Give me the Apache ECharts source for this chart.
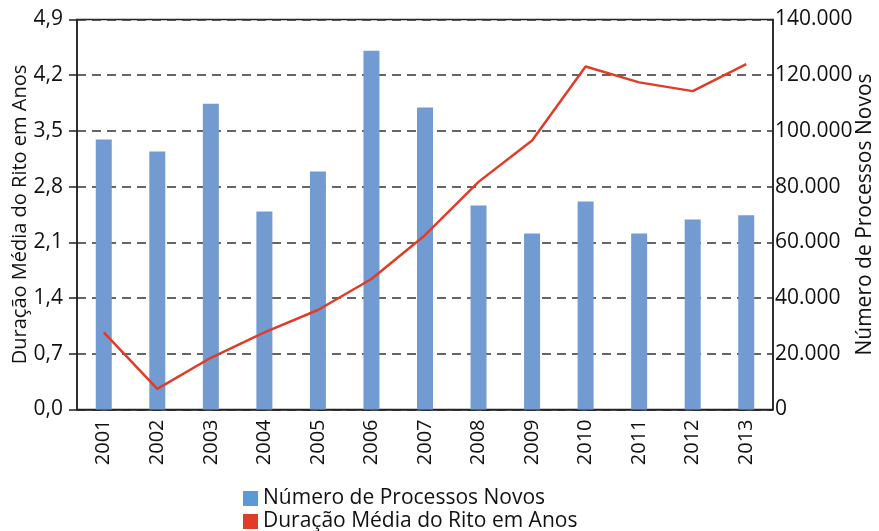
<!DOCTYPE html>
<html>
<head>
<meta charset="utf-8">
<script src="https://cdn.jsdelivr.net/npm/echarts@6/dist/echarts.min.js"></script>
<style>
  html, body { margin: 0; padding: 0; background: #fff; }
  #chart { width: 879px; height: 531px; }
</style>
</head>
<body>
<div id="chart"></div>
<script>
const years = ['2001', '2002', '2003', '2004', '2005', '2006', '2007', '2008', '2009', '2010', '2011', '2012', '2013']
const processosNovos = [96900, 92600, 109800, 71100, 85400, 128800, 108400, 73200, 63200, 74700, 63200, 68200, 69700]
const duracaoMedia = [0.97, 0.26, 0.65, 0.97, 1.25, 1.64, 2.19, 2.86, 3.38, 4.31, 4.11, 4.0, 4.34]

const font = 'Open Sans'
const fmtThousands = v => (v === 0 ? '0' : String(v).replace(/\B(?=(\d{3})+(?!\d))/g, '.'))

// one legend per row, the default layout would put them side by side here
const legendRow = (name, color, top) => ({
  orient: 'vertical',
  left: 243, top,
  padding: 0,
  itemWidth: 15, itemHeight: 15,
  textStyle: { fontFamily: font, fontSize: 21, color: '#111' },
  data: [{ name, icon: 'rect', itemStyle: { color } }]
})

const chart = echarts.init(document.getElementById('chart'))
chart.setOption({
  animation: false,
  textStyle: { fontFamily: font, color: '#111' },
  grid: {
    left: 77, right: 106, top: 19.5, bottom: 121.5,
    outerBoundsMode: 'none',
    containLabel: false,
    show: true, borderColor: '#222', borderWidth: 1.5, backgroundColor: 'transparent'
  },
  legend: [
    legendRow('Número de Processos Novos', '#5b9bd5', 488),
    legendRow('Duração Média do Rito em Anos', '#e03c27', 511)
  ],
  xAxis: {
    type: 'category',
    data: years,
    axisLine: { lineStyle: { color: '#222', width: 1.5 } },
    axisTick: { length: 8, lineStyle: { color: '#222', width: 1.5 } },
    axisLabel: { rotate: 90, fontSize: 20, color: '#111', margin: 10, fontFamily: font }
  },
  yAxis: [
    {
      type: 'value',
      min: 0, max: 4.9, interval: 0.7,
      name: 'Duração Média do Rito em Anos',
      nameLocation: 'middle',
      nameGap: 47,
      nameMoveOverlap: false,
      nameTextStyle: { fontSize: 20, color: '#111', fontFamily: font },
      axisLine: { show: true, lineStyle: { color: '#222', width: 1.5 } },
      axisTick: { show: true, length: 8, lineStyle: { color: '#222', width: 1.5 } },
      axisLabel: { fontSize: 21, color: '#111', margin: 14, fontFamily: font, formatter: v => v.toFixed(1).replace('.', ',') },
      splitLine: { show: true, lineStyle: { color: '#333', width: 1.5, type: [9, 6] } }
    },
    {
      type: 'value',
      min: 0, max: 140000, interval: 20000,
      name: 'Número de Processos Novos',
      nameLocation: 'middle',
      nameGap: 82,
      nameMoveOverlap: false,
      nameRotate: 90,
      nameTextStyle: { fontSize: 21, color: '#111', fontFamily: font },
      axisLine: { show: true, lineStyle: { color: '#222', width: 1.5 } },
      axisTick: { show: true, length: 0 },
      axisLabel: { fontSize: 21, color: '#111', margin: 2, fontFamily: font, formatter: fmtThousands },
      splitLine: { show: false }
    }
  ],
  series: [
    {
      name: 'Número de Processos Novos',
      type: 'bar',
      yAxisIndex: 1,
      data: processosNovos,
      barWidth: 16,
      itemStyle: { color: '#729bd1' }
    },
    {
      name: 'Duração Média do Rito em Anos',
      type: 'line',
      yAxisIndex: 0,
      data: duracaoMedia,
      showSymbol: false,
      lineStyle: { color: '#e03c27', width: 2.5 },
      itemStyle: { color: '#e03c27' }
    }
  ]
})
</script>
</body>
</html>
